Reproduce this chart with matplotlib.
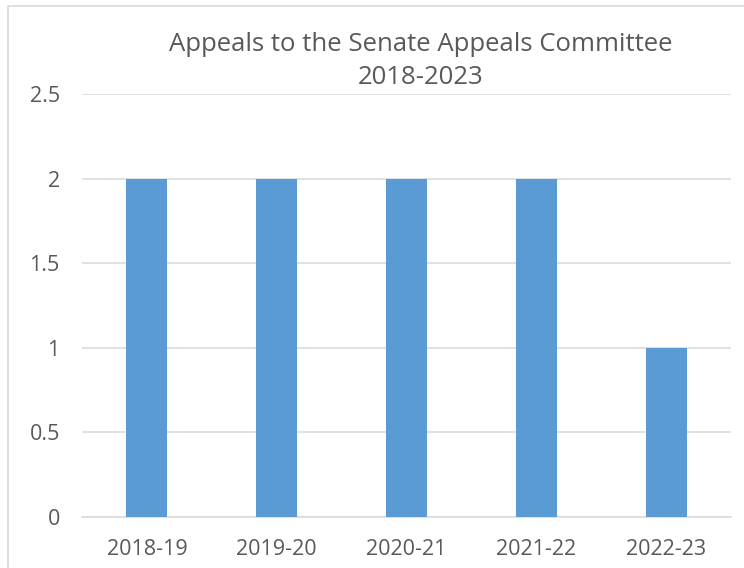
import matplotlib.pyplot as plt
from matplotlib.patches import Rectangle

# Data
years = ['2018-19', '2019-20', '2020-21', '2021-22', '2022-23']
appeals = [2, 2, 2, 2, 1]

plt.rcParams['font.family'] = ['Open Sans', 'DejaVu Sans']

fig = plt.figure(figsize=(7.44, 5.68), dpi=100)
ax = fig.add_axes([82/744, 51/568, 649/744, 423/568])

ax.bar(years, appeals, width=0.316, color='#5B9BD5', zorder=3)

ax.set_ylim(0, 2.5)
ax.set_yticks([0, 0.5, 1, 1.5, 2, 2.5])
ax.set_yticklabels(['0', '0.5', '1', '1.5', '2', '2.5'])
ax.set_xlim(-0.5, 4.5)
ax.yaxis.grid(True, color='#D9D9D9', linewidth=1.1, zorder=0)
for side in ['top', 'right', 'left']:
    ax.spines[side].set_visible(False)
ax.spines['bottom'].set_color('#D9D9D9')
ax.spines['bottom'].set_linewidth(1.1)
ax.tick_params(axis='both', length=0, labelsize=15.5, labelcolor='#595959')
ax.tick_params(axis='y', pad=16)
ax.tick_params(axis='x', pad=16)

# title, two centred lines
fig.text(421/744, 1 - 51/568, 'Appeals to the Senate Appeals Committee',
         ha='center', va='baseline', fontsize=18.5, color='#595959')
fig.text(421/744, 1 - 84/568, '2018-2023',
         ha='center', va='baseline', fontsize=18.5, color='#595959')

# chart area border (only left and top visible in the crop)
fig.patches.append(Rectangle((8/744, -0.1), 1.2, 1 - 6/568 + 0.1, transform=fig.transFigure,
                             fill=False, edgecolor='#D9D9D9', linewidth=1.2))

fig.savefig('out.png', dpi=100)
